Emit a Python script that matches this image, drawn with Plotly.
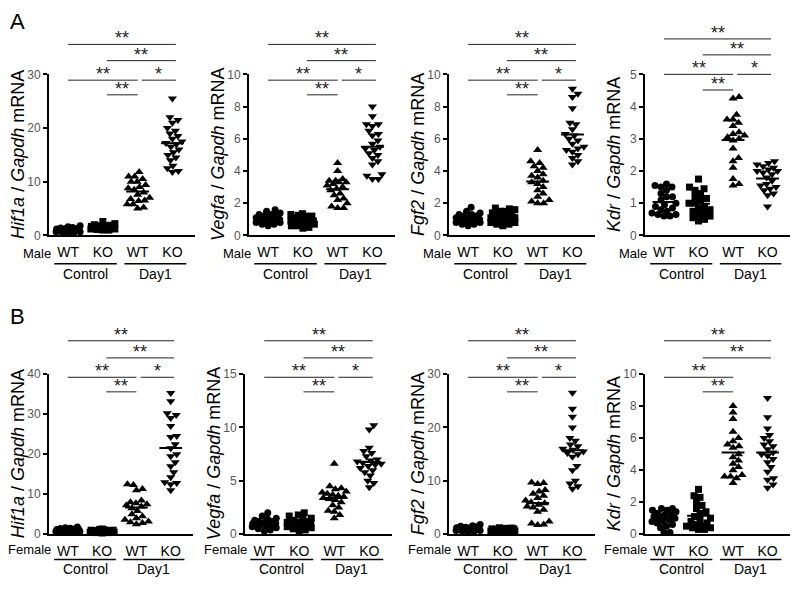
import numpy as np
import plotly.graph_objects as go

W, H = 800, 590

# ---------------- labels ----------------
group_ticks = ["WT", "KO", "WT", "KO"]
group_names = ["Control", "Day1"]
genes = ["Hif1a", "Vegfa", "Fgf2", "Kdr"]
sex_labels = ["Male", "Female"]
panel_letters = ["A", "B"]

# ---------------- axis ranges ----------------
ymax_male = [30, 10, 10, 5]
dtick_male = [10, 2, 2, 1]
ymax_female = [40, 15, 30, 10]
dtick_female = [10, 5, 10, 2]

# ---------------- data: Male ----------------
hif1a_m_wt_ctrl = [1.8, 1.6, 1.5, 1.4, 1.3, 1.2, 1.2, 1.1, 1.0, 1.0, 0.9, 0.9, 0.8, 0.8, 0.7, 0.7, 0.6, 0.6, 0.5, 1.0, 1.3]
hif1a_m_ko_ctrl = [2.6, 2.2, 2.0, 1.9, 1.8, 1.7, 1.6, 1.5, 1.5, 1.4, 1.4, 1.3, 1.3, 1.2, 1.2, 1.1, 1.0, 1.0, 1.6, 1.8]
hif1a_m_wt_day1 = [11.8, 11.0, 11.0, 10.5, 10.0, 10.0, 9.4, 9.0, 8.8, 8.5, 8.0, 7.6, 7.0, 6.8, 6.5, 6.4, 5.8, 5.8, 5.2, 5.0]
hif1a_m_ko_day1 = [25.5, 22.0, 21.5, 21.0, 20.0, 19.5, 19.0, 18.5, 18.0, 17.5, 17.2, 17.0, 16.5, 16.0, 15.5, 15.0, 14.5, 14.0, 13.0, 12.5, 12.0, 11.8]

vegfa_m_wt_ctrl = [1.6, 1.5, 1.4, 1.3, 1.2, 1.2, 1.1, 1.1, 1.0, 1.0, 1.0, 0.9, 0.9, 0.9, 0.8, 0.8, 0.7, 0.7, 0.6, 1.3]
vegfa_m_ko_ctrl = [1.35, 1.3, 1.25, 1.2, 1.1, 1.1, 1.0, 1.0, 0.9, 0.9, 0.9, 0.8, 0.8, 0.8, 0.7, 0.7, 0.6, 0.6, 0.5, 0.45, 1.2]
vegfa_m_wt_day1 = [4.5, 4.0, 3.5, 3.4, 3.4, 3.3, 3.3, 3.2, 3.1, 3.0, 2.9, 2.8, 2.6, 2.5, 2.3, 2.2, 2.0, 1.8, 1.7, 1.7]
vegfa_m_ko_day1 = [8.0, 7.4, 6.9, 6.9, 6.8, 6.5, 6.3, 6.2, 5.9, 5.7, 5.5, 5.4, 5.3, 5.1, 5.0, 4.8, 4.6, 4.4, 3.8, 3.7, 3.5, 3.5]

fgf2_m_wt_ctrl = [1.75, 1.5, 1.4, 1.3, 1.2, 1.2, 1.1, 1.1, 1.0, 1.0, 0.9, 0.9, 0.9, 0.8, 0.8, 0.7, 0.7, 0.6, 1.3, 1.0]
fgf2_m_ko_ctrl = [1.7, 1.65, 1.6, 1.5, 1.4, 1.3, 1.2, 1.2, 1.1, 1.1, 1.0, 1.0, 0.9, 0.9, 0.8, 0.8, 0.7, 0.7, 0.6, 1.5, 1.3]
fgf2_m_wt_day1 = [5.3, 4.6, 4.5, 4.3, 4.2, 4.0, 3.8, 3.7, 3.6, 3.4, 3.3, 3.2, 3.0, 2.8, 2.6, 2.4, 2.2, 2.1, 2.0, 2.0]
fgf2_m_ko_day1 = [9.1, 8.8, 8.6, 7.9, 7.0, 6.9, 6.6, 6.3, 6.2, 6.0, 5.9, 5.7, 5.5, 5.4, 5.3, 5.2, 5.0, 4.8, 4.6, 4.4]

kdr_m_wt_ctrl = [1.6, 1.55, 1.5, 1.5, 1.4, 1.3, 1.2, 1.2, 1.1, 1.0, 0.95, 0.9, 0.85, 0.8, 0.75, 0.7, 0.65, 0.65, 0.6, 0.6]
kdr_m_ko_ctrl = [1.75, 1.5, 1.45, 1.4, 1.3, 1.2, 1.15, 1.1, 1.0, 1.0, 0.9, 0.85, 0.8, 0.75, 0.7, 0.65, 0.6, 0.55, 0.5, 0.45]
kdr_m_wt_day1 = [4.3, 4.25, 3.75, 3.6, 3.6, 3.5, 3.4, 3.2, 3.15, 3.1, 3.05, 3.0, 2.95, 2.7, 2.4, 2.3, 2.1, 1.75, 1.6, 1.55]
kdr_m_ko_day1 = [2.3, 2.25, 2.2, 2.15, 2.1, 2.05, 2.0, 2.0, 1.95, 1.9, 1.8, 1.7, 1.6, 1.55, 1.5, 1.45, 1.4, 1.3, 1.25, 0.9]

# ---------------- data: Female ----------------
hif1a_f_wt_ctrl = [1.8, 1.6, 1.5, 1.3, 1.2, 1.1, 1.0, 1.0, 0.9, 0.9, 0.8, 0.8, 0.7, 0.7, 0.6, 0.6, 0.5, 1.4, 1.2, 0.9]
hif1a_f_ko_ctrl = [1.3, 1.2, 1.1, 1.0, 0.9, 0.9, 0.8, 0.8, 0.7, 0.7, 0.6, 0.6, 0.5, 0.5, 0.4, 0.4, 0.3, 1.0, 0.7, 0.6]
hif1a_f_wt_day1 = [12.5, 12.3, 11.3, 11.0, 8.4, 8.0, 7.7, 7.5, 7.2, 6.9, 6.5, 5.8, 5.0, 4.5, 4.0, 3.6, 3.2, 3.0, 2.8, 2.5]
hif1a_f_ko_day1 = [35.3, 33.2, 30.2, 29.8, 29.0, 27.0, 24.5, 24.3, 22.5, 21.5, 20.0, 19.5, 18.0, 17.0, 15.5, 14.2, 13.0, 12.8, 12.5, 11.0]

vegfa_f_wt_ctrl = [2.0, 1.7, 1.5, 1.4, 1.3, 1.2, 1.1, 1.0, 1.0, 0.9, 0.9, 0.8, 0.8, 0.7, 0.6, 0.5, 0.4, 0.3, 1.2, 1.0]
vegfa_f_ko_ctrl = [2.0, 1.8, 1.7, 1.5, 1.4, 1.3, 1.2, 1.1, 1.0, 1.0, 0.9, 0.9, 0.8, 0.7, 0.6, 0.5, 0.4, 0.3, 1.1, 0.8]
vegfa_f_wt_day1 = [6.6, 4.5, 4.3, 4.2, 4.0, 3.9, 3.8, 3.7, 3.6, 3.5, 3.3, 3.2, 3.0, 2.7, 2.5, 2.2, 2.1, 1.8, 1.5, 3.4]
vegfa_f_ko_day1 = [10.2, 9.8, 8.1, 7.8, 7.6, 7.3, 7.0, 6.9, 6.8, 6.7, 6.6, 6.5, 6.4, 6.2, 6.0, 5.8, 5.5, 5.0, 4.8, 4.4]

fgf2_f_wt_ctrl = [1.8, 1.6, 1.5, 1.4, 1.3, 1.2, 1.1, 1.0, 1.0, 0.9, 0.9, 0.8, 0.8, 0.7, 0.7, 0.6, 0.6, 0.5, 1.2, 1.0]
fgf2_f_ko_ctrl = [1.2, 1.15, 1.1, 1.0, 1.0, 0.9, 0.9, 0.8, 0.8, 0.7, 0.7, 0.6, 0.6, 0.5, 0.5, 0.4, 0.9, 0.8, 0.7, 1.0]
fgf2_f_wt_day1 = [9.7, 9.6, 9.4, 8.3, 8.0, 7.6, 7.2, 6.8, 6.3, 6.0, 5.8, 5.5, 5.2, 5.0, 4.6, 4.2, 2.4, 2.0, 1.8, 1.7]
fgf2_f_ko_day1 = [26.5, 23.5, 22.0, 20.0, 18.0, 17.5, 16.8, 16.5, 16.0, 15.8, 15.5, 15.2, 15.0, 14.5, 12.8, 12.0, 10.0, 9.5, 9.0, 8.5]

kdr_f_wt_ctrl = [1.6, 1.6, 1.5, 1.5, 1.4, 1.3, 1.2, 1.1, 1.0, 1.0, 0.9, 0.8, 0.8, 0.7, 0.6, 0.5, 0.4, 0.1, 0.1, 1.2]
kdr_f_ko_ctrl = [2.8, 2.4, 2.3, 2.0, 1.8, 1.6, 1.4, 1.3, 1.1, 1.0, 0.9, 0.8, 0.7, 0.6, 0.5, 0.5, 0.4, 0.4, 0.3, 0.3]
kdr_f_wt_day1 = [8.0, 7.6, 7.2, 6.4, 6.0, 5.8, 5.6, 5.5, 5.4, 5.0, 4.8, 4.6, 4.4, 4.2, 4.0, 3.7, 3.6, 3.6, 3.5, 3.2]
kdr_f_ko_day1 = [8.5, 7.3, 6.6, 6.2, 6.0, 5.8, 5.6, 5.5, 5.3, 5.1, 5.0, 4.9, 4.7, 4.5, 4.2, 3.9, 3.5, 3.4, 3.1, 2.9]

male_data = [
    [hif1a_m_wt_ctrl, hif1a_m_ko_ctrl, hif1a_m_wt_day1, hif1a_m_ko_day1],
    [vegfa_m_wt_ctrl, vegfa_m_ko_ctrl, vegfa_m_wt_day1, vegfa_m_ko_day1],
    [fgf2_m_wt_ctrl, fgf2_m_ko_ctrl, fgf2_m_wt_day1, fgf2_m_ko_day1],
    [kdr_m_wt_ctrl, kdr_m_ko_ctrl, kdr_m_wt_day1, kdr_m_ko_day1],
]
female_data = [
    [hif1a_f_wt_ctrl, hif1a_f_ko_ctrl, hif1a_f_wt_day1, hif1a_f_ko_day1],
    [vegfa_f_wt_ctrl, vegfa_f_ko_ctrl, vegfa_f_wt_day1, vegfa_f_ko_day1],
    [fgf2_f_wt_ctrl, fgf2_f_ko_ctrl, fgf2_f_wt_day1, fgf2_f_ko_day1],
    [kdr_f_wt_ctrl, kdr_f_ko_ctrl, kdr_f_wt_day1, kdr_f_ko_day1],
]

# significance comparisons (group i, group j) and their labels per panel
comparisons = [(0, 3), (1, 3), (0, 2), (2, 3), (1, 2)]
comparison_level = [0, 1, 2, 2, 3]
sig_male = [["**", "**", "**", "*", "**"]] * 4
sig_female = [["**", "**", "**", "*", "**"]] * 3 + [["**", "**", "**", "", "**"]]

# ---------------- layout geometry (pixels) ----------------
rows = [
    dict(sex=0, data=male_data, ymax=ymax_male, dtick=dtick_male, sig=sig_male,
         top=69, bottom=234, cols=[(49, 195), (249, 395), (449, 595), (645, 790)],
         levels=[[1.186, 1.085, 0.964, 0.873]] * 3 + [[1.22, 1.121, 1.0, 0.903]],
         tick_off=18, gline_off=29, glabel_off=39, letter_y=15),
    dict(sex=1, data=female_data, ymax=ymax_female, dtick=dtick_female, sig=sig_female,
         top=376, bottom=540, cols=[(49, 193), (245, 392), (449, 595), (645, 790)],
         levels=[[1.208, 1.101, 0.98, 0.889]] * 4,
         tick_off=16, gline_off=26, glabel_off=36, letter_y=317),
]

symbols = ["circle", "square", "triangle-up", "triangle-down"]
msizes = [7, 7, 8, 8]
XR = [-0.55, 3.65]
FONT = "Arial, Liberation Sans, Helvetica, sans-serif"


def swarm_offsets(vals, ppu_y, d=6.0, max_off=12.0, step=0.5):
    ys = np.asarray(vals, dtype=float) * ppu_y
    order = np.argsort(ys)
    cands = [0.0]
    k = 1
    while k * step <= max_off:
        cands += [k * step, -k * step]
        k += 1
    placed = []
    offs = np.zeros(len(ys))
    for idx in order:
        y = ys[idx]
        best, best_score = 0.0, -1.0
        for c in cands:
            mind = min((np.hypot(c - px, y - py) for px, py in placed), default=1e9)
            if mind >= d:
                best = c
                break
            if mind > best_score:
                best_score = mind
                best = c
        offs[idx] = best
        placed.append((best, y))
    return offs


fig = go.Figure()
layout = {}
shapes = []
annotations = []

def py2paper(p):
    return 1 - p / H

n = 0
for row in rows:
    top, bottom = row["top"], row["bottom"]
    hpx = bottom - top
    annotations.append(dict(text=panel_letters[row["sex"]], x=17 / W, y=py2paper(row["letter_y"]),
                            xref="paper", yref="paper", showarrow=False, xanchor="center", yanchor="middle",
                            font=dict(size=22, color="black", family=FONT)))
    for c in range(4):
        n += 1
        xa = "x" if n == 1 else f"x{n}"
        ya = "y" if n == 1 else f"y{n}"
        x0px, x1px = row["cols"][c]
        ymax = row["ymax"][c]
        ppu_x = (x1px - x0px) / (XR[1] - XR[0])
        ppu_y = hpx / ymax

        layout["xaxis" if n == 1 else f"xaxis{n}"] = dict(
            domain=[x0px / W, x1px / W], range=XR, anchor=ya,
            showline=True, linecolor="black", linewidth=2,
            tickmode="array", tickvals=[0, 1, 2, 3], ticktext=group_ticks,
            ticks="outside", ticklen=3, tickcolor="rgba(0,0,0,0)",
            tickfont=dict(size=14, color="black", family=FONT),
            showgrid=False, zeroline=False, fixedrange=True)
        layout["yaxis" if n == 1 else f"yaxis{n}"] = dict(
            domain=[py2paper(bottom), py2paper(top)], range=[0, ymax], anchor=xa,
            tick0=0, dtick=row["dtick"][c],
            showline=True, linecolor="black", linewidth=2,
            ticks="outside", ticklen=4, tickwidth=1.5, tickcolor="black",
            tickfont=dict(size=12, color="#555555", family=FONT),
            showgrid=False, zeroline=False, fixedrange=True)

        groups = row["data"][c]
        for g in range(4):
            vals = groups[g]
            offs = swarm_offsets(vals, ppu_y)
            xs = g + offs / ppu_x
            fig.add_trace(go.Scatter(
                x=xs, y=vals, mode="markers", xaxis=xa, yaxis=ya, showlegend=False,
                cliponaxis=False, hoverinfo="skip",
                marker=dict(symbol=symbols[g], size=msizes[g], color="black", line=dict(width=0))))
            m = float(np.mean(vals))
            fig.add_trace(go.Scatter(
                x=[g - 0.33, g + 0.33], y=[m, m], mode="lines", xaxis=xa, yaxis=ya,
                showlegend=False, hoverinfo="skip", cliponaxis=False,
                line=dict(color="black", width=2)))

        # y axis title
        annotations.append(dict(
            text=f"<i>{genes[c]}</i> / <i>Gapdh</i> mRNA", x=(x0px - 31) / W, xref="paper",
            y=0.5, yref=f"{ya} domain", textangle=-90, showarrow=False,
            xanchor="center", yanchor="middle", font=dict(size=18, color="black", family=FONT)))
        # sex label
        annotations.append(dict(
            text=sex_labels[row["sex"]], x=(x0px + 4) / W, xref="paper",
            y=py2paper(bottom + row["tick_off"]), yref="paper", showarrow=False,
            xanchor="right", yanchor="middle", font=dict(size=13, color="black", family=FONT)))
        # group lines and labels
        for gi, (a, b) in enumerate([(-0.4, 1.4), (1.62, 3.4)]):
            shapes.append(dict(type="line", xref=xa, yref="paper", x0=a, x1=b,
                               y0=py2paper(bottom + row["gline_off"]), y1=py2paper(bottom + row["gline_off"]),
                               line=dict(color="black", width=1.5)))
            annotations.append(dict(
                text=group_names[gi], x=gi * 2 + 0.5, xref=xa,
                y=py2paper(bottom + row["glabel_off"]), yref="paper", showarrow=False,
                xanchor="center", yanchor="middle", font=dict(size=14, color="black", family=FONT)))
        # significance brackets
        levels = row["levels"][c]
        for (i, j), lev, lab in zip(comparisons, comparison_level, row["sig"][c]):
            if not lab:
                continue
            bx0 = i + (0.12 if i > 0 else 0.0)
            bx1 = j + (0.1 if j == 3 else 0.0)
            yl = levels[lev]
            shapes.append(dict(type="line", xref=xa, yref=f"{ya} domain", x0=bx0, x1=bx1, y0=yl, y1=yl,
                               line=dict(color="#222222", width=1)))
            annotations.append(dict(
                text=lab, x=(bx0 + bx1) / 2, xref=xa, y=yl, yref=f"{ya} domain",
                showarrow=False, xanchor="center", yanchor="bottom", yshift=-6,
                font=dict(size=18, color="#222222", family=FONT)))

fig.update_layout(
    width=W, height=H, margin=dict(l=0, r=0, t=0, b=0),
    paper_bgcolor="white", plot_bgcolor="white",
    font=dict(family=FONT, color="black"),
    shapes=shapes, annotations=annotations, showlegend=False,
    **layout)

fig.write_html("out.html", config={"displayModeBar": False},
               post_script="document.body.style.margin='0px';document.body.style.overflow='hidden';")
